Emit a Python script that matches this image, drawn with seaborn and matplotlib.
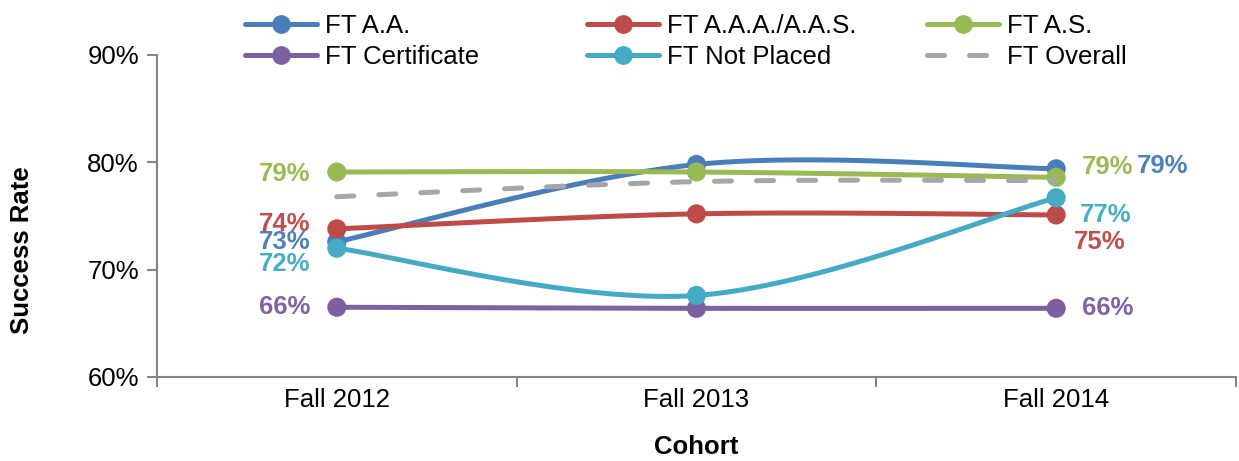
import numpy as np
import matplotlib
matplotlib.use("Agg")
import matplotlib.pyplot as plt
from matplotlib.lines import Line2D
import seaborn as sns

# data
cohorts = ["Fall 2012", "Fall 2013", "Fall 2014"]
series_names = ["FT A.A.", "FT A.A.A./A.A.S.", "FT A.S.",
                "FT Certificate", "FT Not Placed", "FT Overall"]
ft_aa = [0.726, 0.798, 0.794]
ft_aaa_aas = [0.738, 0.752, 0.751]
ft_as = [0.791, 0.791, 0.786]
ft_cert = [0.665, 0.664, 0.664]
ft_not_placed = [0.720, 0.676, 0.767]
ft_overall = [0.768, 0.782, 0.783]

values = [ft_aa, ft_aaa_aas, ft_as, ft_cert, ft_not_placed, ft_overall]
line_colors = ["#4A7EBB", "#BE4B48", "#98B954", "#7D60A0", "#46AAC5", "#A6A6A6"]
label_colors = ["#4F81BD", "#C0504D", "#9BBB59", "#8064A2", "#4BACC6", "#A6A6A6"]

# data label offsets in pixels (left label, right label); None = no label
left_off = [(-26, 0), (-26, 5), (-26, -2), (-26, 0), (-26, -16), None]
right_off = [(81, 3), (18, -27), (26, 10), (26, 0), (24, -17), None]

FONT = ["Liberation Sans", "DejaVu Sans"]
FS = 18.5


def excel_smooth(xs, ys, n=60):
    # Catmull-Rom style bezier, like Excel's smoothed line
    xs = np.asarray(xs, float)
    ys = np.asarray(ys, float)
    px = np.concatenate([[xs[0]], xs, [xs[-1]]])
    py = np.concatenate([[ys[0]], ys, [ys[-1]]])
    out_x, out_y = [], []
    t = np.linspace(0, 1, n)
    for i in range(1, len(px) - 2):
        p0 = np.array([px[i], py[i]])
        p3 = np.array([px[i + 1], py[i + 1]])
        c1 = p0 + (np.array([px[i + 1], py[i + 1]]) - np.array([px[i - 1], py[i - 1]])) / 6
        c2 = p3 - (np.array([px[i + 2], py[i + 2]]) - np.array([px[i], py[i]])) / 6
        b = ((1 - t) ** 3)[:, None] * p0 + (3 * (1 - t) ** 2 * t)[:, None] * c1 \
            + (3 * (1 - t) * t ** 2)[:, None] * c2 + (t ** 3)[:, None] * p3
        out_x.extend(b[:, 0])
        out_y.extend(b[:, 1])
    return np.array(out_x), np.array(out_y)


sns.set_theme(style="white")
plt.rcParams["font.family"] = FONT
plt.rcParams["text.color"] = "black"
plt.rcParams["axes.labelcolor"] = "black"

fig = plt.figure(figsize=(12.39, 4.61), dpi=100)
ax = fig.add_axes([157 / 1239, 84 / 461, 1079 / 1239, 322 / 461])

xpos = np.arange(len(cohorts))
for k, (name, vals) in enumerate(zip(series_names, values)):
    sx, sy = excel_smooth(xpos, vals)
    if name == "FT Overall":
        ax.plot(sx, sy, color=line_colors[k], lw=3.6, dashes=(3.4, 5),
                dash_capstyle="round", zorder=2 + k)
    else:
        ax.plot(sx, sy, color=line_colors[k], lw=3.6, solid_capstyle="round",
                zorder=2 + k)
        sns.scatterplot(x=xpos, y=vals, ax=ax, color=line_colors[k], s=190,
                        edgecolor="none", zorder=2.5 + k, legend=False)

# data labels
for k, vals in enumerate(values):
    if left_off[k] is not None:
        ax.annotate(f"{vals[0]:.0%}", (xpos[0], vals[0]), xytext=left_off[k],
                    textcoords="offset pixels", ha="right", va="center",
                    fontsize=FS, fontweight="bold", color=label_colors[k],
                    zorder=20)
    if right_off[k] is not None:
        ax.annotate(f"{vals[-1]:.0%}", (xpos[-1], vals[-1]), xytext=right_off[k],
                    textcoords="offset pixels", ha="left", va="center",
                    fontsize=FS, fontweight="bold", color=label_colors[k],
                    zorder=20)

ax.set_xlim(-0.5, len(cohorts) - 0.5)
ax.set_ylim(0.60, 0.90)
ax.set_yticks([0.6, 0.7, 0.8, 0.9])
ax.set_yticklabels([f"{v:.0%}" for v in [0.6, 0.7, 0.8, 0.9]], fontsize=FS)
ax.set_xticks(np.arange(-0.5, len(cohorts), 1.0))
ax.set_xticklabels([])
ax.set_xticks(xpos, minor=True)
ax.set_xticklabels(cohorts, minor=True, fontsize=FS)
ax.tick_params(axis="x", which="major", direction="out", length=7, width=1.5,
               color="#868686", bottom=True)
ax.tick_params(axis="x", which="minor", length=0, pad=8, labelcolor="black")
ax.tick_params(axis="y", direction="out", length=7, width=1.5, color="#868686",
               left=True, pad=6, labelcolor="black")

for side in ["top", "right"]:
    ax.spines[side].set_visible(False)
for side in ["left", "bottom"]:
    ax.spines[side].set_color("#868686")
    ax.spines[side].set_linewidth(1.5)
ax.grid(False)

ax.set_xlabel("Cohort", fontsize=FS, fontweight="bold", color="black")
ax.set_ylabel("Success Rate", fontsize=FS, fontweight="bold", color="black")
ax.xaxis.set_label_coords(0.5, -(435 - 377) / 322)
ax.yaxis.set_label_coords(-(157 - 34) / 1079, (377 - 250) / 322)

# legend: three equal-width columns, two rows each
handles = []
for k, name in enumerate(series_names):
    if name == "FT Overall":
        h = Line2D([], [], color=line_colors[k], lw=3.6, dashes=(3.4, 5),
                   dash_capstyle="round")
    else:
        h = Line2D([], [], color=line_colors[k], lw=3.6, marker="o",
                   markersize=13.5, markeredgewidth=0)
    handles.append((h, name))

col_x = [245, 587, 927]
for c in range(3):
    hs = [handles[c][0], handles[c + 3][0]]
    ls = [handles[c][1], handles[c + 3][1]]
    fig.legend(hs, ls, loc="upper left",
               bbox_to_anchor=(col_x[c] / 1239, 1 - 14 / 461),
               frameon=False, fontsize=FS, handlelength=2.8,
               handletextpad=0.3, labelspacing=0.28, borderpad=0,
               borderaxespad=0)

fig.savefig("out.png", dpi=100)
